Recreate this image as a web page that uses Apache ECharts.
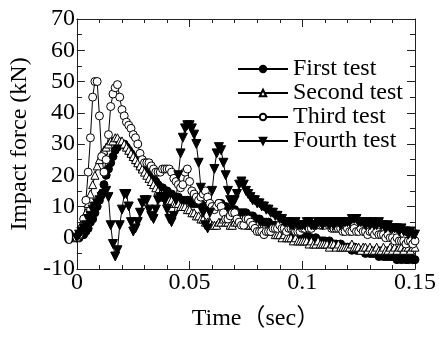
<!DOCTYPE html>
<html>
<head>
<meta charset="utf-8">
<script src="https://cdn.jsdelivr.net/npm/echarts@6/dist/echarts.min.js"></script>
<style>html,body{margin:0;padding:0;background:#fff}#c{width:439px;height:338px}</style>
</head>
<body>
<div id="c"></div>
<script>
// sampling step of the records (s)
const T_STEP = 0.001;
const seriesNames = ['First test', 'Second test', 'Third test', 'Fourth test'];
const xTicks = [0, 0.05, 0.1, 0.15];
const yTicks = [-10, 0, 10, 20, 30, 40, 50, 60, 70];

const firstTest = [0,0,1,1,2,3,5,6,8,10,12,14,17,20,22,24,26,28,29,30,
30,30,29,28,27,26,25,24,23,22,22,21,21,20,19,18,17,16,16,15,
15,14,14,13,13,13,12,12,12,12,12,11,11,11,11,11,10,10,10,10,
10,10,10,11,11,10,10,9,9,9,9,8,8,8,8,8,7,7,7,6,
6,6,5,5,5,5,4,4,4,3,3,3,3,2,2,2,2,1,1,1,
1,0,1,0,0,-1,0,-1,-1,-1,-1,-2,-1,-2,-2,-2,-3,-2,-3,-3,
-3,-3,-4,-3,-4,-4,-4,-4,-5,-4,-5,-5,-5,-5,-6,-5,-6,-6,-6,-6,
-6,-6,-7,-6,-7,-6,-7,-7,-6,-7,-7];

const secondTest = [0,1,3,5,8,11,14,17,20,23,25,27,28,29,30,31,31,32,32,31,
31,30,29,28,27,26,25,24,23,22,21,20,19,18,17,16,15,14,14,13,
12,12,12,11,11,11,10,10,10,9,9,8,8,7,7,6,6,5,5,5,
4,4,4,5,5,6,5,5,4,4,5,5,6,6,5,5,4,4,4,4,
4,3,3,3,2,2,2,2,1,1,1,0,1,0,0,0,-1,0,-1,-1,
-1,-1,-1,-2,-1,-2,-2,-1,-2,-2,-2,-2,-3,-2,-2,-3,-2,-3,-3,-3,
-3,-3,-2,-3,-3,-3,-4,-3,-3,-4,-3,-4,-4,-3,-4,-4,-3,-4,-4,-3,
-4,-3,-4,-3,-3,-4,-3,-3,-4,-3,-3];

const thirdTest = [0,1,3,6,12,21,32,45,50,50,39,26,21,25,33,42,46,48,49,45,
41,39,37,36,35,33,32,30,27,25,24,24,24,23,22,21,21,21,22,22,
22,22,21,19,18,17,16,17,21,22,18,15,14,13,12,13,14,15,13,11,
10,9,10,11,10,8,6,6,7,8,8,6,5,4,4,6,6,5,4,3,
2,2,2,1,2,2,2,3,3,3,4,3,3,2,3,3,3,2,2,2,
3,3,4,3,3,4,4,5,4,4,4,5,4,3,3,3,3,3,2,2,
3,2,2,3,2,2,3,2,2,1,2,2,1,2,1,1,1,0,1,0,
0,-1,0,-1,-1,-1,-2,-1,-1,-2,-1];

const fourthTest = [0,1,2,3,4,6,7,9,10,11,12,13,14,15,13,4,-2,-6,-4,4,
9,14,14,10,5,2,3,5,8,11,12,12,9,7,6,9,12,13,13,12,
9,6,5,7,12,20,27,32,35,36,36,35,33,30,24,16,8,4,3,8,
15,22,27,29,28,24,20,15,12,11,12,14,17,18,17,15,14,13,12,12,
11,11,10,10,9,9,8,8,7,7,6,6,5,5,5,4,4,5,4,4,
4,4,5,5,4,4,4,5,5,4,5,5,4,5,4,5,5,4,5,5,
5,5,6,6,6,5,5,5,4,5,4,5,4,4,5,4,4,3,4,3,
3,3,3,2,3,2,2,1,2,1,1];

const FONT = "'Liberation Serif', 'Times New Roman', 'Noto Sans CJK JP', serif";
const pair = arr => arr.map((v, i) => [+(i * T_STEP).toFixed(3), v]);

const chart = echarts.init(document.getElementById('c'), null, {renderer: 'canvas'});

const axisCommon = {
  axisLine: {show: true, onZero: false, lineStyle: {color: '#222', width: 1}},
  splitLine: {show: false},
};
const xBase = Object.assign({}, axisCommon, {
  type: 'value', min: xTicks[0], max: xTicks[xTicks.length - 1], interval: 0.05,
  axisTick: {show: true, inside: true, length: 8, lineStyle: {color: '#222'}},
  minorTick: {show: true, splitNumber: 5, length: 4, lineStyle: {color: '#222'}},
});
const yBase = Object.assign({}, axisCommon, {
  type: 'value', min: yTicks[0], max: yTicks[yTicks.length - 1], interval: 10,
  axisTick: {show: true, inside: true, length: 8, lineStyle: {color: '#222'}},
  minorTick: {show: true, splitNumber: 2, length: 5, lineStyle: {color: '#222'}},
});

const markers = [
  {symbol: 'circle', fill: '#000'},
  {symbol: 'triangle', fill: '#fff'},
  {symbol: 'circle', fill: '#fff'},
  {symbol: 'path://M0,0L10,0L5,9Z', fill: '#000'}
];
const allData = [firstTest, secondTest, thirdTest, fourthTest];

chart.setOption({
  animation: false,
  backgroundColor: '#fff',
  grid: {left: 68, right: 21, top: 19, bottom: 69, containLabel: false},
  legend: {
    orient: 'vertical', left: 232, top: 52,
    itemWidth: 50, itemHeight: 8, itemGap: 0,
    textStyle: {fontFamily: FONT, fontSize: 24, color: '#000', lineHeight: 24},
    data: seriesNames
  },
  xAxis: [
    Object.assign({}, xBase, {
      position: 'bottom',
      axisLabel: {color: '#000', fontFamily: FONT, fontSize: 24, margin: 2,
        formatter: v => String(+v.toFixed(2))},
      name: 'Time（sec）', nameLocation: 'middle', nameGap: 38,
      nameTextStyle: {color: '#000', fontFamily: FONT, fontSize: 24, padding: [0, 0, 0, 20]}
    }),
    Object.assign({}, xBase, {position: 'top', axisLabel: {show: false}})
  ],
  yAxis: [
    Object.assign({}, yBase, {
      position: 'left',
      axisLabel: {color: '#000', fontFamily: FONT, fontSize: 24, margin: 2},
      name: 'Impact force (kN)', nameLocation: 'middle', nameGap: 44,
      nameTextStyle: {color: '#000', fontFamily: FONT, fontSize: 24}
    }),
    Object.assign({}, yBase, {position: 'right', axisLabel: {show: false}})
  ],
  series: allData.map((d, k) => ({
    name: seriesNames[k],
    type: 'line',
    xAxisIndex: 0, yAxisIndex: 0,
    data: pair(d),
    symbol: markers[k].symbol,
    symbolSize: k === 3 ? 9 : 8,
    showAllSymbol: true,
    lineStyle: {color: '#000', width: 1},
    itemStyle: {color: markers[k].fill, borderColor: '#000', borderWidth: 1},
    emphasis: {disabled: true}
  }))
});
</script>
</body>
</html>
